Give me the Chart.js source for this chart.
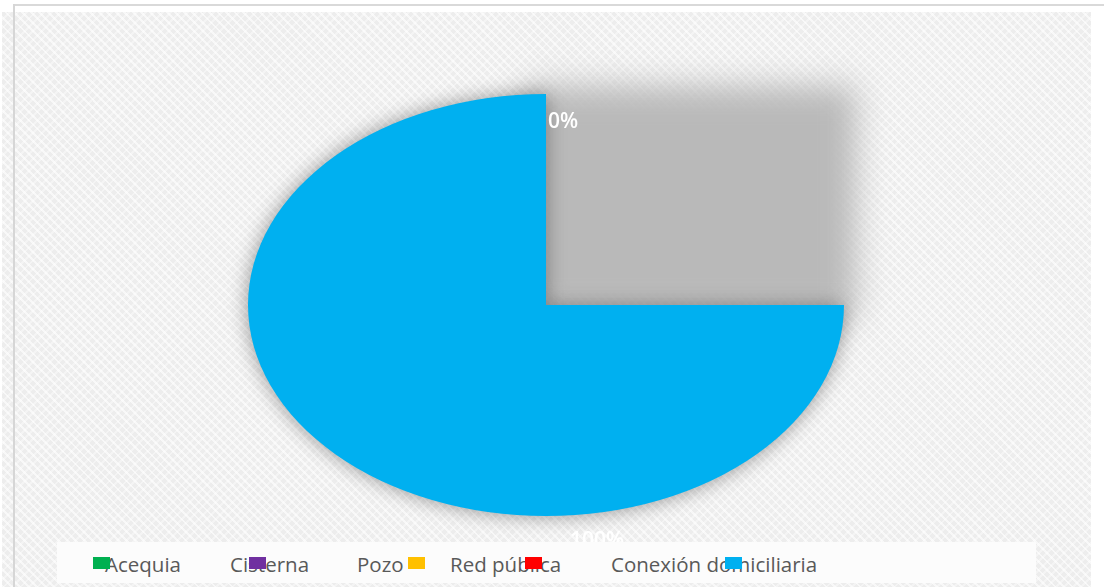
<!DOCTYPE html>
<html lang="es">
<head>
<meta charset="utf-8">
<script src="https://cdn.jsdelivr.net/npm/chart.js@4.4.1/dist/chart.umd.min.js"></script>
<style>
  html, body { margin: 0; padding: 0; background: #ffffff; }
  body { width: 1104px; height: 587px; position: relative; overflow: hidden; font-family: "Open Sans", sans-serif; }
  #texture {
    position: absolute; left: 2px; top: 12px; width: 1089px; height: 575px;
    background-color: #ededed;
    background-image:
      repeating-linear-gradient(45deg, rgba(255,255,255,0.6) 0 2px, rgba(255,255,255,0) 2px 6px),
      repeating-linear-gradient(-45deg, rgba(255,255,255,0.4) 0 2px, rgba(255,255,255,0) 2px 6px);
  }
  #lineTop { position: absolute; left: 14px; top: 4px; width: 1090px; height: 2px; background: #d9d9d9; }
  #lineLeft { position: absolute; left: 13px; top: 4px; width: 2px; height: 583px; background: #d6d6d6; }
  #chart { position: absolute; left: 0; top: 0; }
  #legend { position: absolute; left: 57px; top: 542px; width: 979px; height: 41px; background: #fcfcfc; }
  #legend .txt { position: absolute; top: 8px; font-size: 20.5px; color: #595959; white-space: nowrap; }
  #legend .box { position: absolute; top: 15px; width: 17px; height: 12px; }
</style>
</head>
<body>
<div id="texture"></div>
<div id="lineTop"></div>
<div id="lineLeft"></div>
<canvas id="chart" width="1104" height="587"></canvas>
<div id="legend"></div>
<script>
// Categorías y valores (número de viviendas por tipo de abastecimiento)
const categories = ['Acequia', 'Cisterna', 'Pozo', 'Red pública', 'Conexión domiciliaria'];
const values = [0, 0, 0, 0, 100];
const colors = ['#00b050', '#7030a0', '#ffc000', '#ff0000', '#00b0f0'];

// Posición de la leyenda (texto y cuadro), relativa a su recuadro
const legendText = [48, 173, 300, 393, 554];
const legendBox = [36, 192, 351, 468, 668];

// Relación ancho/alto de la elipse
const stretchX = 298 / 211;

const total = values.reduce((a, b) => a + b, 0);

// Dibuja el pastel como elipse, con sombra
const ellipsePlugin = {
  id: 'ellipse',
  beforeDatasetsDraw(chart) {
    const ctx = chart.ctx;
    const arc = chart.getDatasetMeta(0).data[values.length - 1];
    const cx = arc.x, cy = arc.y, r = arc.outerRadius;
    const rx = r * stretchX;

    // sombra del cuadrante vacío
    ctx.save();
    ctx.filter = 'blur(16px)';
    ctx.fillStyle = '#b9b9b9';
    ctx.fillRect(cx - 20, cy - r - 8, rx + 32, r + 20);
    ctx.restore();

    ctx.save();
    ctx.shadowColor = 'rgba(0,0,0,0.4)';
    ctx.shadowBlur = 20;
    ctx.translate(cx, cy);
    ctx.scale(stretchX, 1);
    ctx.translate(-cx, -cy);
  },
  afterDatasetsDraw(chart) {
    const ctx = chart.ctx;
    ctx.restore();

    // etiquetas de porcentaje
    const arc = chart.getDatasetMeta(0).data[values.length - 1];
    const cx = arc.x, cy = arc.y, r = arc.outerRadius;
    ctx.save();
    ctx.fillStyle = '#ffffff';
    ctx.font = '600 21px "Open Sans"';
    ctx.textBaseline = 'middle';
    let zeroDone = false;
    values.forEach((v, i) => {
      const pct = Math.round(v / total * 100) + '%';
      if (v === 0) {
        if (zeroDone) return;
        zeroDone = true;
        ctx.textAlign = 'left';
        ctx.fillText(pct, cx + 2, cy - r + 28);
      } else {
        ctx.textAlign = 'center';
        ctx.fillText(pct, cx + 51, cy + r + 25);
      }
    });
    ctx.restore();
  }
};

new Chart(document.getElementById('chart'), {
  type: 'pie',
  data: {
    labels: categories,
    datasets: [{
      data: values,
      backgroundColor: colors,
      borderWidth: 0,
      hoverOffset: 0,
      offset: 0,
      clip: false
    }]
  },
  options: {
    responsive: false,
    animation: false,
    events: [],
    rotation: 90,
    circumference: 270,
    layout: { padding: { left: 335, right: 347, top: 94, bottom: 71 } },
    plugins: {
      legend: { display: false },
      tooltip: { enabled: false },
      title: { display: false }
    }
  },
  plugins: [ellipsePlugin]
});

// Leyenda inferior
const legend = document.getElementById('legend');
categories.forEach((name, i) => {
  const t = document.createElement('span');
  t.className = 'txt';
  t.style.left = legendText[i] + 'px';
  t.textContent = name;
  legend.appendChild(t);
  const b = document.createElement('span');
  b.className = 'box';
  b.style.left = legendBox[i] + 'px';
  b.style.background = colors[i];
  legend.appendChild(b);
});
</script>
</body>
</html>
